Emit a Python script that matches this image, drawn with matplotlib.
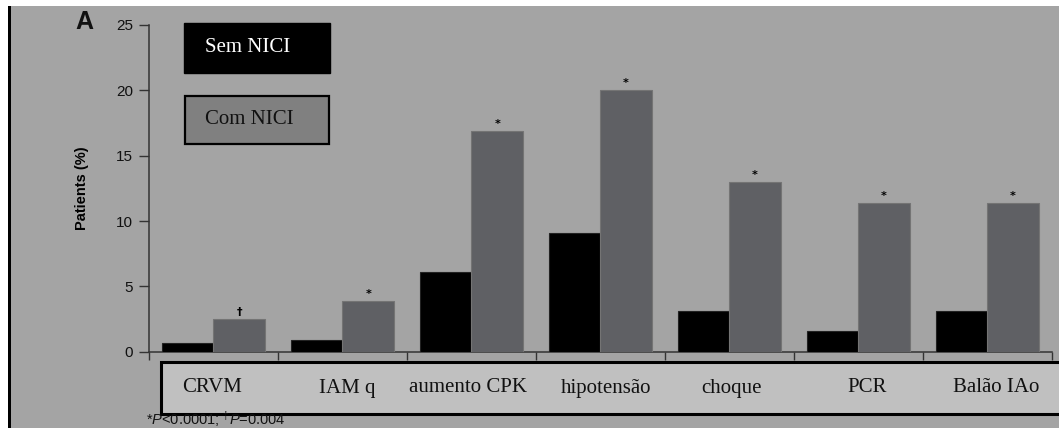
import matplotlib
matplotlib.use("Agg")
import matplotlib.pyplot as plt
from matplotlib.patches import Rectangle
from matplotlib.transforms import blended_transform_factory
import numpy as np

categories = ["CRVM", "IAM q", "aumento CPK", "hipotensão", "choque", "PCR", "Balão IAo"]
series_names = ["Sem NICI", "Com NICI"]
sem_nici = [0.7, 0.9, 6.1, 9.1, 3.1, 1.6, 3.1]
com_nici = [2.5, 3.9, 16.9, 20.0, 13.0, 11.4, 11.4]
sig_marks = ["†", "*", "*", "*", "*", "*", "*"]
y_ticks = [0, 5, 10, 15, 20, 25]

# layout only: small horizontal nudges of the category labels (in group widths)
label_nudge = [-0.01, 0.035, -0.03, 0.045, 0.015, 0.07, 0.07]

W, H = 1059, 428
plt.rcParams['mathtext.fontset'] = 'custom'
plt.rcParams['mathtext.rm'] = 'Liberation Sans'
plt.rcParams['mathtext.it'] = 'Liberation Sans:italic'

fig = plt.figure(figsize=(W / 100, H / 100), dpi=100, facecolor="white")

def fx(px):
    return px / W

def fy(py):
    return 1 - py / H

BG = "#a4a4a4"
BAR_GRAY = "#5f6064"

# background panel and left rule
fig.patches.append(Rectangle((fx(11), 0), 1 - fx(11), fy(6), transform=fig.transFigure,
                             facecolor=BG, edgecolor="none", zorder=-2))
fig.patches.append(Rectangle((fx(8), 0), fx(3), fy(6), transform=fig.transFigure,
                             facecolor="black", edgecolor="none", zorder=-2))

left, right, top, bottom = 149, 1051.7, 25, 351.7
ax = fig.add_axes([fx(left), fy(bottom), fx(right) - fx(left), fy(top) - fy(bottom)])
ax.patch.set_visible(False)
ax.set_zorder(3)

x = np.arange(len(categories))
w = 0.4
ax.bar(x - w / 2, sem_nici, width=w, color="black", edgecolor="#222222", linewidth=0.8, zorder=3)
ax.bar(x + w / 2, com_nici, width=w, color=BAR_GRAY, edgecolor="#747474", linewidth=0.8, zorder=3)

for xi, v, m in zip(x, com_nici, sig_marks):
    ax.annotate(m, (xi + w / 2, v), xytext=(0, 5), textcoords="offset points",
                ha="center", va="center", fontsize=8, family="DejaVu Sans",
                fontweight="bold", color="black")

ax.set_xlim(-0.5, len(categories) - 0.5)
ax.set_ylim(0, 25)
ax.set_yticks(y_ticks)
ax.set_yticklabels([str(t) for t in y_ticks], family="Liberation Sans", fontsize=11)
ax.set_xticks([])
ax.set_xticks(np.arange(-0.5, len(categories)), minor=True)
ax.tick_params(axis="x", which="minor", direction="out", length=6, width=1, color="#333333")
ax.tick_params(axis="y", which="major", direction="out", length=7.5, width=1, color="#333333",
               pad=4, labelcolor="#111111")

for s in ["top", "right"]:
    ax.spines[s].set_visible(False)
for s in ["left", "bottom"]:
    ax.spines[s].set_color("#333333")
    ax.spines[s].set_linewidth(1.1)

ax.set_ylabel("Patients (%)", family="Liberation Sans", fontweight="bold", fontsize=10.5)
ax.yaxis.set_label_coords((89 - left) / (right - left), 0.5)

# category label box
fig.patches.append(Rectangle((fx(161), fy(413.5)), fx(1070) - fx(161), fy(362) - fy(413.5),
                             transform=fig.transFigure, facecolor="#c0c0c0",
                             edgecolor="black", linewidth=2.2, zorder=1))
lab_tr = blended_transform_factory(ax.transData, fig.transFigure)
for xi, c, nd in zip(x, categories, label_nudge):
    ax.text(xi + nd, fy(388), c, transform=lab_tr, clip_on=False,
            ha="center", va="center", family="Liberation Serif", fontsize=15, color="#111111")

# legend boxes
fig.patches.append(Rectangle((fx(184), fy(73)), fx(330) - fx(184), fy(23) - fy(73),
                             transform=fig.transFigure, facecolor="black", edgecolor="black",
                             linewidth=1, zorder=2))
fig.patches.append(Rectangle((fx(185), fy(144)), fx(329) - fx(185), fy(96) - fy(144),
                             transform=fig.transFigure, facecolor="#808080", edgecolor="black",
                             linewidth=1.6, zorder=2))
fig.text(fx(205), fy(48), series_names[0], ha="left", va="center", family="Liberation Serif",
         fontsize=15, color="white", zorder=4)
fig.text(fx(205), fy(120), series_names[1], ha="left", va="center", family="Liberation Serif",
         fontsize=15, color="#111111", zorder=4)

# panel letter
fig.text(fx(75), fy(22), "A", ha="left", va="center", family="Liberation Sans",
         fontweight="bold", fontsize=18, color="#111111")

# footnote
fig.text(fx(146), fy(425), r"*$\mathit{P}$<0.0001; $^{\dagger}\mathit{P}$=0.004", ha="left",
         va="baseline", family="Liberation Sans", fontsize=10.5, color="#111111")

fig.savefig("out.png", dpi=100, facecolor=fig.get_facecolor())
